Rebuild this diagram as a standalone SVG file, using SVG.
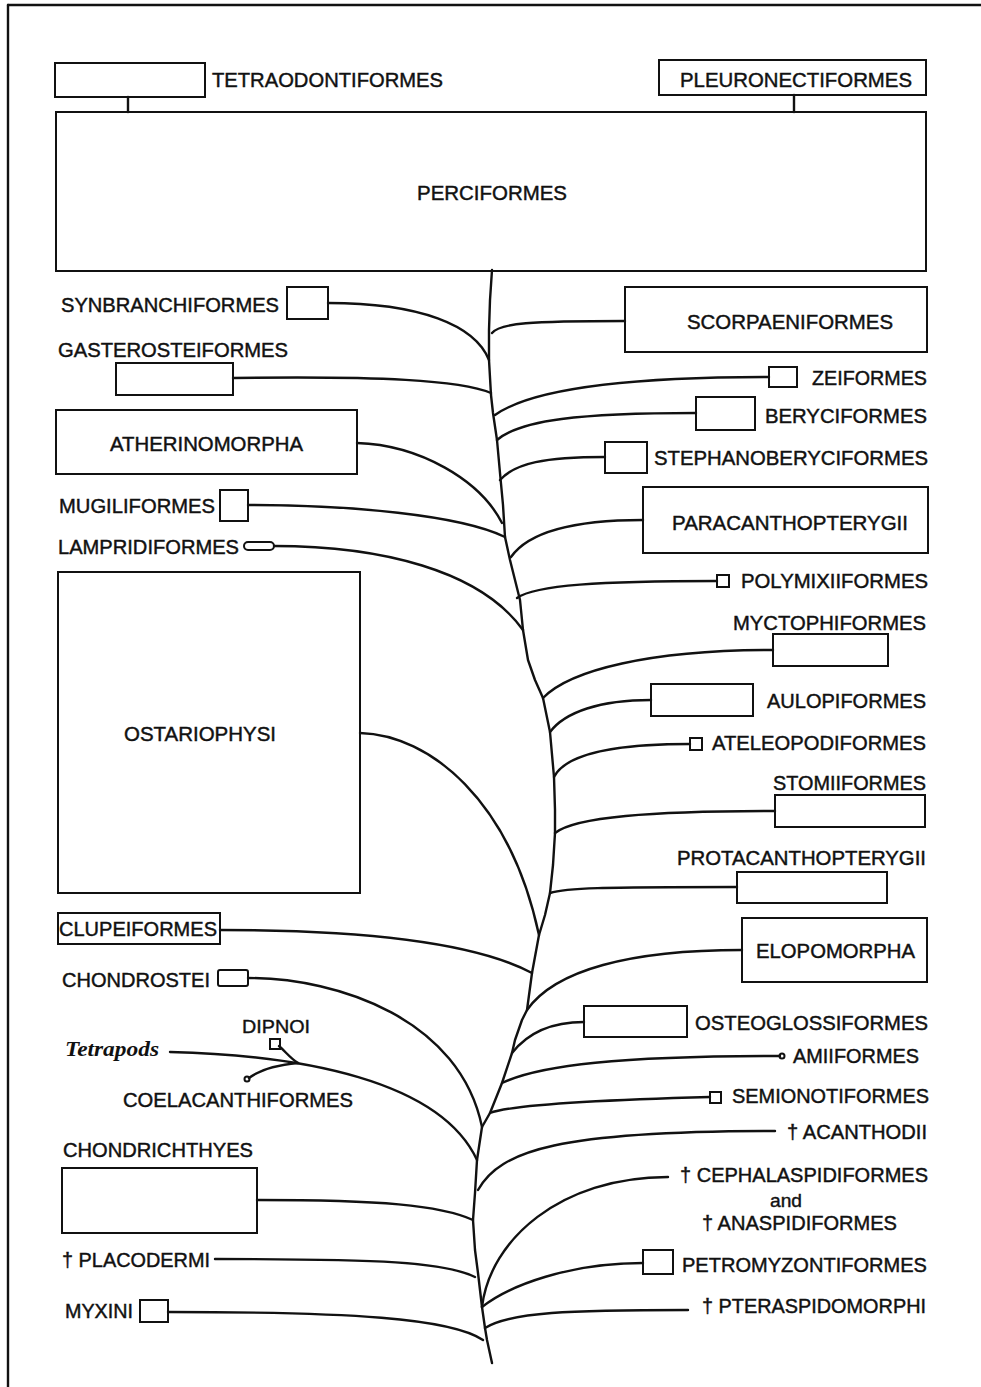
<svg xmlns="http://www.w3.org/2000/svg" width="981" height="1387" viewBox="0 0 981 1387">
<style>
.bx{fill:none;stroke:#111;stroke-width:2}
.ln{fill:none;stroke:#111;stroke-width:2.4;stroke-linecap:round;stroke-linejoin:round}
.t{font-family:"Liberation Sans",Arial,sans-serif;font-size:21px;fill:#111;stroke:#111;stroke-width:0.45}
.s{font-family:"Liberation Sans",Arial,sans-serif;font-size:19px;fill:#111;stroke:#111;stroke-width:0.4}
.it{font-family:"Liberation Serif","Times New Roman",serif;font-style:italic;font-weight:bold;font-size:22px;fill:#111}
</style>
<rect x="0" y="0" width="981" height="1387" fill="#fff"/>
<g id="frame">
<line x1="8" y1="5" x2="981" y2="5" class="ln"/>
<line x1="8" y1="5" x2="8" y2="1387" class="ln"/>
</g>
<g id="connectors">
<line class="ln" x1="128" y1="97" x2="128" y2="112"/>
<line class="ln" x1="794" y1="95" x2="794" y2="112"/>
<path class="ln" d="M492,270 L490,300 L489,330 L489,360 L491,395 L493,413 L497,440 L500,473 L503,505 L505,537 L510,560 L515,580 L520,600 L523,630 L528,660 L535,680 L543,698 L550,732 L554,777 L555,810 L555,833 L553,865 L550,893 L545,915 L539,935 L532,973 L527,1010 L522,1020 L515,1040 L512,1053 L502,1083 L490,1113 L482,1127 L477,1160 L475,1193 L473,1220 L475,1250 L478,1273 L482,1307 L485,1328 L487,1340 L492,1363"/>
<path class="ln" d="M328,303 C420,303 475,325 489,360"/>
<path class="ln" d="M233,378 C380,376 460,380 491,393"/>
<path class="ln" d="M357,443 C420,445 480,480 502,523"/>
<path class="ln" d="M248,505 C350,505 460,515 505,537"/>
<path class="ln" d="M274,546 C380,546 480,570 523,630"/>
<path class="ln" d="M360,733 C430,735 510,800 539,935"/>
<path class="ln" d="M220,930 C350,930 470,940 532,973"/>
<path class="ln" d="M248,978 C340,978 460,1020 482,1127"/>
<path class="ln" d="M170,1052 C300,1055 440,1080 477,1160"/>
<path class="ln" d="M279,1046 C286,1052 290,1058 298,1063"/>
<path class="ln" d="M249,1078 Q265,1066 298,1063"/>
<path class="ln" d="M257,1200 C380,1200 440,1205 473,1220"/>
<path class="ln" d="M215,1259 C380,1259 445,1262 475,1277"/>
<path class="ln" d="M168,1312 C350,1312 450,1318 483,1340"/>
<path class="ln" d="M492,333 C500,323 530,321 625,321"/>
<path class="ln" d="M495,415 C530,390 620,377 769,377"/>
<path class="ln" d="M497,440 C520,420 580,413 696,413"/>
<path class="ln" d="M500,480 C515,463 545,457 605,457"/>
<path class="ln" d="M511,557 C525,537 560,520 643,520"/>
<path class="ln" d="M517,598 C535,585 600,581 717,581"/>
<path class="ln" d="M543,698 C570,670 650,650 773,650"/>
<path class="ln" d="M550,732 C565,712 600,700 651,700"/>
<path class="ln" d="M554,777 C565,755 610,744 690,744"/>
<path class="ln" d="M555,833 C575,817 650,811 775,811"/>
<path class="ln" d="M550,893 C565,888 600,887 737,887"/>
<path class="ln" d="M527,1010 C555,970 630,950 742,950"/>
<path class="ln" d="M512,1053 C530,1030 555,1022 584,1022"/>
<path class="ln" d="M502,1083 C540,1065 620,1056 780,1056"/>
<path class="ln" d="M490,1113 C510,1105 600,1100 710,1097"/>
<path class="ln" d="M478,1190 C500,1150 560,1131 775,1131"/>
<path class="ln" d="M482,1307 C490,1240 560,1177 668,1177"/>
<path class="ln" d="M482,1307 C510,1285 570,1263 643,1263"/>
<path class="ln" d="M485,1328 C510,1312 570,1310 688,1310"/>
</g>
<g id="tetraodontiformes"><rect class="bx" x="55" y="63" width="150" height="34"/><text class="t" x="212" y="87" textLength="231" lengthAdjust="spacingAndGlyphs">TETRAODONTIFORMES</text></g>
<g id="pleuronectiformes"><rect class="bx" x="659" y="60" width="267" height="35"/><text class="t" x="680" y="87" textLength="232" lengthAdjust="spacingAndGlyphs">PLEURONECTIFORMES</text></g>
<g id="perciformes"><rect class="bx" x="56" y="112" width="870" height="159"/><text class="t" x="417" y="200" textLength="150" lengthAdjust="spacingAndGlyphs">PERCIFORMES</text></g>
<g id="synbranchiformes"><text class="t" x="61" y="312" textLength="218" lengthAdjust="spacingAndGlyphs">SYNBRANCHIFORMES</text><rect class="bx" x="287" y="287" width="41" height="32"/></g>
<g id="gasterosteiformes"><text class="t" x="58" y="357" textLength="230" lengthAdjust="spacingAndGlyphs">GASTEROSTEIFORMES</text><rect class="bx" x="116" y="363" width="117" height="32"/></g>
<g id="atherinomorpha"><rect class="bx" x="56" y="410" width="301" height="64"/><text class="t" x="110" y="451" textLength="193" lengthAdjust="spacingAndGlyphs">ATHERINOMORPHA</text></g>
<g id="mugiliformes"><text class="t" x="59" y="513" textLength="156" lengthAdjust="spacingAndGlyphs">MUGILIFORMES</text><rect class="bx" x="220" y="490" width="28" height="31"/></g>
<g id="lampridiformes"><text class="t" x="58" y="554" textLength="181" lengthAdjust="spacingAndGlyphs">LAMPRIDIFORMES</text><rect class="bx" x="244" y="542" width="30" height="8" rx="4"/></g>
<g id="ostariophysi"><rect class="bx" x="58" y="572" width="302" height="321"/><text class="t" x="124" y="741" textLength="152" lengthAdjust="spacingAndGlyphs">OSTARIOPHYSI</text></g>
<g id="clupeiformes"><rect class="bx" x="58" y="913" width="162" height="31"/><text class="t" x="59" y="936" textLength="158" lengthAdjust="spacingAndGlyphs">CLUPEIFORMES</text></g>
<g id="chondrostei"><text class="t" x="62" y="987" textLength="148" lengthAdjust="spacingAndGlyphs">CHONDROSTEI</text><rect class="bx" x="218" y="970" width="30" height="16" rx="2"/></g>
<g id="dipnoi"><text class="s" x="242" y="1033" textLength="68" lengthAdjust="spacingAndGlyphs">DIPNOI</text><rect class="bx" x="270" y="1039" width="10" height="10"/></g>
<g id="tetrapods"><text class="it" x="65" y="1056" textLength="94" lengthAdjust="spacingAndGlyphs">Tetrapods</text></g>
<g id="coelacanthiformes"><circle class="bx" cx="247" cy="1079" r="2.5"/><text class="t" x="123" y="1107" textLength="230" lengthAdjust="spacingAndGlyphs">COELACANTHIFORMES</text></g>
<g id="chondrichthyes"><text class="t" x="63" y="1157" textLength="190" lengthAdjust="spacingAndGlyphs">CHONDRICHTHYES</text><rect class="bx" x="62" y="1168" width="195" height="65"/></g>
<g id="placodermi"><text class="t" x="62" y="1267" textLength="148" lengthAdjust="spacingAndGlyphs">† PLACODERMI</text></g>
<g id="myxini"><text class="t" x="65" y="1318" textLength="68" lengthAdjust="spacingAndGlyphs">MYXINI</text><rect class="bx" x="140" y="1300" width="28" height="22"/></g>
<g id="scorpaeniformes"><rect class="bx" x="625" y="287" width="302" height="65"/><text class="t" x="687" y="329" textLength="206" lengthAdjust="spacingAndGlyphs">SCORPAENIFORMES</text></g>
<g id="zeiformes"><rect class="bx" x="769" y="367" width="28" height="20"/><text class="t" x="812" y="385" textLength="115" lengthAdjust="spacingAndGlyphs">ZEIFORMES</text></g>
<g id="beryciformes"><rect class="bx" x="696" y="397" width="59" height="33"/><text class="t" x="765" y="423" textLength="162" lengthAdjust="spacingAndGlyphs">BERYCIFORMES</text></g>
<g id="stephanoberyciformes"><rect class="bx" x="605" y="442" width="42" height="31"/><text class="t" x="654" y="465" textLength="274" lengthAdjust="spacingAndGlyphs">STEPHANOBERYCIFORMES</text></g>
<g id="paracanthopterygii"><rect class="bx" x="643" y="487" width="285" height="66"/><text class="t" x="672" y="530" textLength="236" lengthAdjust="spacingAndGlyphs">PARACANTHOPTERYGII</text></g>
<g id="polymixiiformes"><rect class="bx" x="717" y="575" width="12" height="12"/><text class="t" x="741" y="588" textLength="187" lengthAdjust="spacingAndGlyphs">POLYMIXIIFORMES</text></g>
<g id="myctophiformes"><text class="t" x="733" y="630" textLength="193" lengthAdjust="spacingAndGlyphs">MYCTOPHIFORMES</text><rect class="bx" x="773" y="634" width="115" height="32"/></g>
<g id="aulopiformes"><rect class="bx" x="651" y="684" width="102" height="32"/><text class="t" x="767" y="708" textLength="159" lengthAdjust="spacingAndGlyphs">AULOPIFORMES</text></g>
<g id="ateleopodiformes"><rect class="bx" x="690" y="738" width="12" height="12"/><text class="t" x="712" y="750" textLength="214" lengthAdjust="spacingAndGlyphs">ATELEOPODIFORMES</text></g>
<g id="stomiiformes"><text class="t" x="773" y="790" textLength="153" lengthAdjust="spacingAndGlyphs">STOMIIFORMES</text><rect class="bx" x="775" y="795" width="150" height="32"/></g>
<g id="protacanthopterygii"><text class="t" x="677" y="865" textLength="249" lengthAdjust="spacingAndGlyphs">PROTACANTHOPTERYGII</text><rect class="bx" x="737" y="872" width="150" height="31"/></g>
<g id="elopomorpha"><rect class="bx" x="742" y="918" width="185" height="64"/><text class="t" x="756" y="958" textLength="159" lengthAdjust="spacingAndGlyphs">ELOPOMORPHA</text></g>
<g id="osteoglossiformes"><rect class="bx" x="584" y="1006" width="103" height="31"/><text class="t" x="695" y="1030" textLength="233" lengthAdjust="spacingAndGlyphs">OSTEOGLOSSIFORMES</text></g>
<g id="amiiformes"><circle class="bx" cx="782" cy="1056" r="2.5"/><text class="t" x="793" y="1063" textLength="126" lengthAdjust="spacingAndGlyphs">AMIIFORMES</text></g>
<g id="semionotiformes"><rect class="bx" x="710" y="1092" width="11" height="11"/><text class="t" x="732" y="1103" textLength="197" lengthAdjust="spacingAndGlyphs">SEMIONOTIFORMES</text></g>
<g id="acanthodii"><text class="t" x="787" y="1139" textLength="140" lengthAdjust="spacingAndGlyphs">† ACANTHODII</text></g>
<g id="cephalaspidiformes"><text class="t" x="680" y="1182" textLength="248" lengthAdjust="spacingAndGlyphs">† CEPHALASPIDIFORMES</text><text class="s" x="770" y="1207" textLength="32" lengthAdjust="spacingAndGlyphs">and</text><text class="t" x="702" y="1230" textLength="195" lengthAdjust="spacingAndGlyphs">† ANASPIDIFORMES</text></g>
<g id="petromyzontiformes"><rect class="bx" x="643" y="1250" width="30" height="24"/><text class="t" x="682" y="1272" textLength="245" lengthAdjust="spacingAndGlyphs">PETROMYZONTIFORMES</text></g>
<g id="pteraspidomorphi"><text class="t" x="702" y="1313" textLength="224" lengthAdjust="spacingAndGlyphs">† PTERASPIDOMORPHI</text></g>
</svg>
